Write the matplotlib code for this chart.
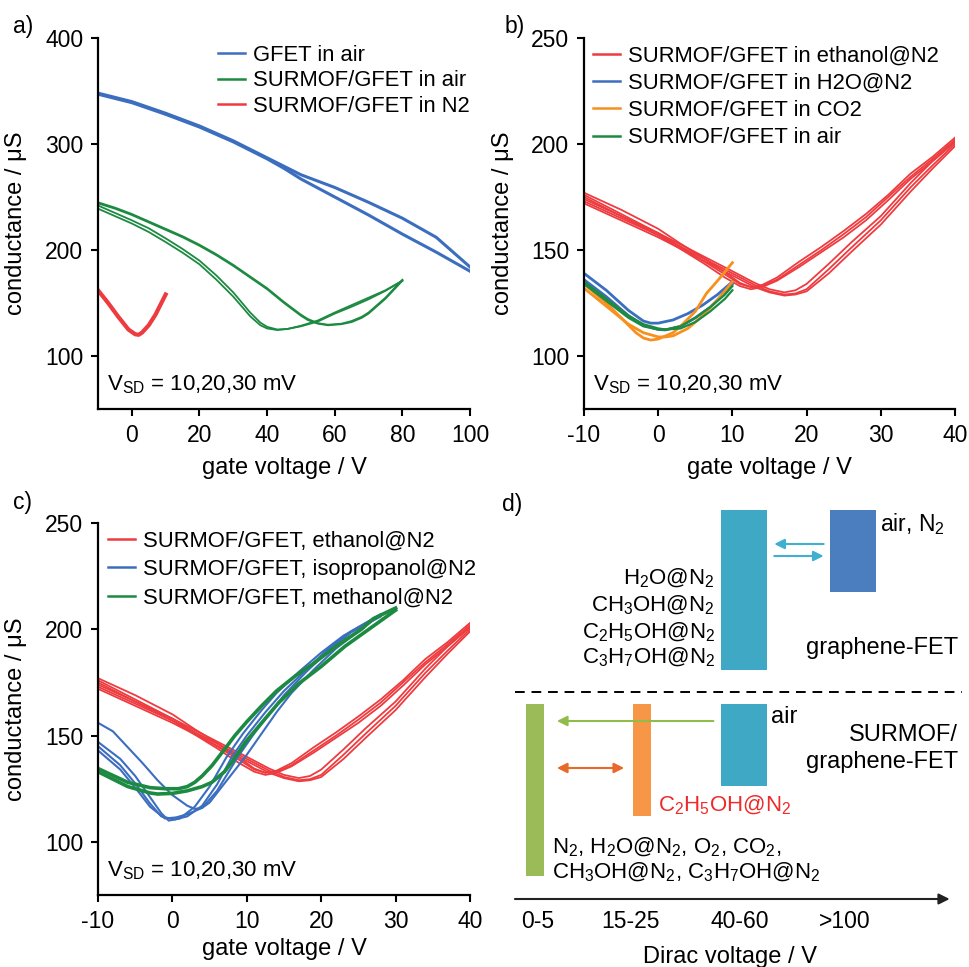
import matplotlib
matplotlib.use('Agg')
import matplotlib.pyplot as plt
from matplotlib.lines import Line2D

plt.rcParams['font.family'] = ['Liberation Sans', 'DejaVu Sans']
plt.rcParams['mathtext.fontset'] = 'custom'
plt.rcParams['mathtext.rm'] = 'Liberation Sans'
plt.rcParams['mathtext.it'] = 'Liberation Sans:italic'
plt.rcParams['mathtext.sf'] = 'Liberation Sans'
plt.rcParams['axes.unicode_minus'] = False

# ── colours ──────────────────────────────────────────────────────────────────
RED = '#ee3b3f'
BLUE = '#3c6ec0'
GREEN = '#1d8a42'
ORANGE = '#f7901e'

# ── panel a: GFET vs SURMOF/GFET (gate voltage V, conductance uS) ────────────
gfet_air_v = [-10, 0, 10, 20, 30, 40, 45, 50, 60, 70, 80, 90, 100]
gfet_air_up = [348, 340, 329, 317, 303, 287, 279, 271, 259, 245, 230, 212, 184]
gfet_air_dn = [347, 339, 328, 316, 302, 286, 277, 267, 250, 233, 215, 198, 180]

surmof_air_v_fwd = [-10, -5, 0, 5, 10, 15, 20, 25, 30, 35, 38, 40, 43, 46, 50,
                    55, 60, 65, 70, 75, 80]
surmof_air_fwd1 = [242, 235, 228, 220.5, 211, 201, 190, 176, 160, 141, 131.5,
                   127.5, 125, 125.5, 128, 132.5, 140, 146.5, 153.5, 161.5, 171]
surmof_air_fwd2 = [239, 232, 225, 217, 207.5, 197.5, 186.5, 172, 156, 137.5,
                   129, 126, 124.5, 125.5, 128.5, 133.5, 141, 148, 155, 162, 171]
surmof_air_v_bwd = [80, 75, 70, 68, 65, 62, 58, 55, 52, 50, 45, 40, 35, 30, 25,
                    20, 15, 10, 5, 0, -5, -10]
surmof_air_bwd1 = [172, 155, 141, 137, 133, 130.5, 129.5, 131, 135, 139, 151,
                   164, 175, 186, 196, 205, 213, 220, 227, 234, 240, 245]
surmof_air_bwd2 = [171, 154, 140, 136, 132, 130, 129, 130.5, 134, 138, 150,
                   163, 174, 185, 195, 204, 212, 219, 226, 233, 239, 244]

surmof_n2_v = [-10, -7, -4, -1, 1, 2, 3, 5, 7, 10]
surmof_n2_y = [162, 150, 137, 125, 120.5, 120, 122, 129, 139, 158]

# ── panel b & c: ethanol@N2 loops (shared) ───────────────────────────────────
etoh_v_fwd = [-10, -5, 0, 5, 10, 13, 15, 17, 18.5, 20, 23, 26, 30, 34, 37, 40]
etoh_fwd1 = [173, 165, 157, 148, 139, 133.5, 130.5, 129, 129.5, 131.5, 141,
             151, 164, 179.5, 190, 200]
etoh_fwd2 = [172, 164, 156, 147, 138, 132.5, 130, 128.5, 129, 130.5, 139, 149,
             162, 177.5, 188.5, 199]
etoh_fwd3 = [174, 166, 158, 149, 140, 134.5, 131.5, 130, 131, 134, 143.5,
             153.5, 166, 181.5, 192, 201]
etoh_v_bwd = [40, 37, 34, 31, 28, 25, 22, 19, 16, 14, 12.5, 11, 9, 6, 3, 0, -5,
              -10]
etoh_bwd1 = [203, 194, 186, 176, 167, 159, 151.5, 144.5, 137, 133.5, 132.5,
             134, 138.5, 145, 151.5, 158, 167, 176]
etoh_bwd2 = [202, 193, 184.5, 175, 165.5, 157.5, 150, 143, 136, 133, 132.5,
             134.5, 139.5, 146.5, 153, 160, 169, 177]
etoh_bwd3 = [201, 192, 183.5, 173.5, 164, 156, 149, 142, 135.5, 132.5, 131.5,
             133, 137, 144, 150.5, 157, 166, 175]

# ── panel b: H2O@N2, CO2, air ────────────────────────────────────────────────
h2o_v1 = [-10, -7, -4, -2, -1, 0, 2, 4, 6, 8, 10]
h2o_y1 = [139, 131, 121.5, 116.5, 115.5, 115.5, 117, 120, 124, 129, 135]
h2o_v2 = [-10, -7, -4, -2, 0, 1, 3, 5, 7, 9, 10]
h2o_y2 = [136, 128, 119, 114.5, 112.5, 112.3, 114, 118, 123, 130, 134]

co2_v1 = [-10, -7, -5, -3, -2, -1, 0, 2, 3, 5, 6.5, 8, 10]
co2_y1 = [134, 125, 118, 111, 108.5, 107.5, 108, 111, 114, 121, 129.5, 135.5,
          144]
co2_v2 = [-10, -7, -4, -2, 0, 1, 2, 4, 6, 8, 10]
co2_y2 = [132, 123.5, 115, 111, 109, 109, 109.5, 113, 119, 126.5, 135]

air_b_v = [-10, -7, -4, -2, 0, 1, 3, 5, 7, 9, 10]
air_b_y1 = [135, 127, 119, 115, 113, 112.5, 114, 118, 123, 129, 133]
air_b_y2 = [134, 126, 118, 114, 112.5, 112.5, 113, 116, 121, 127, 131]

# ── panel c: isopropanol@N2, methanol@N2 ─────────────────────────────────────
ipa_v1 = [-10, -8, -6, -4, -2, 0, 2, 3, 4, 5, 7, 9.8, 12, 14, 16, 19, 22, 25,
          28]
ipa_y1 = [156, 152, 144.5, 137, 129, 122, 117, 115.5, 116, 118.5, 127.5, 140,
          151, 161, 170, 181, 191, 199, 207]
ipa_v2 = [-10, -7, -5, -3, -1.5, -0.5, 1, 3, 5, 7.3, 9.5, 12, 14, 17, 20, 23,
          26, 28]
ipa_y2 = [147, 139, 131, 121, 113.5, 110, 111, 116.5, 126, 140, 151, 162, 170,
          180, 189, 197, 203, 207]
ipa_v3 = [-10, -7, -5, -3, -1.5, 0.3, 2, 4, 6, 8, 10, 12.5, 15, 18, 21, 24, 28]
ipa_y3 = [145, 136, 127.5, 118, 112, 110.5, 112, 117, 127, 140, 150, 161, 171,
          181, 191, 199, 207]
ipa_v4 = [-10, -7, -5, -3, -1, 0.5, 2, 4, 6, 8.8, 11, 13, 15, 18, 21, 24, 28]
ipa_y4 = [143, 134, 125.5, 116.5, 111, 111.5, 113, 116, 124, 140, 151, 160,
          169, 180, 190, 198.5, 206]

meoh_v_fwd = [-10, -6, -3, -2, 0, 2, 4, 5.3, 7, 8, 9.8, 12, 14.3, 17, 20, 23.2,
              26, 28, 30]
meoh_fwd = [133, 126, 123, 122.5, 122.8, 124, 126, 128, 133, 137.5, 146.8, 156,
            165.5, 174.5, 182.5, 192, 199, 204, 209]
meoh_v_bwd = [30, 27, 25.4, 22, 19, 16.5, 14, 12, 10, 8.4, 7, 5.3, 4, 3, 2, 0.8,
              -1, -3, -6, -10]
meoh_bwd = [210, 205, 200, 192, 184, 178, 171, 164, 156.5, 150, 143.5, 135.8,
            131, 128, 126, 125, 125, 125.5, 128, 134.5]

# ── panel d: schematic of Dirac voltage ranges ───────────────────────────────
dirac_labels = ['0-5', '15-25', '40-60', '>100']
dirac_label_x = [0.0, 0.88, 1.92, 2.92]
bar_x = [-0.03, 0.99, 1.96, 1.96, 3.0]
bar_w = [0.17, 0.18, 0.44, 0.44, 0.43]
bar_lo = [1.15, 4.15, 5.65, 11.45, 15.35]
bar_hi = [9.75, 9.75, 9.75, 19.45, 19.45]
bar_col = ['#9bbb59', '#f79646', '#3fa9c5', '#3fa9c5', '#4a7ebf']


fig = plt.figure(figsize=(9.7, 9.67), dpi=100)


def px_box(x0, y0, x1, y1):
    # pixel box (top-left origin) -> figure fraction rect
    return [x0 / 970, 1 - y1 / 967, (x1 - x0) / 970, (y1 - y0) / 967]


def style_axes(ax, xlim, ylim, xticks, yticks, xlab_y):
    ax.set_xlim(*xlim)
    ax.set_ylim(*ylim)
    ax.set_xticks(xticks)
    ax.set_yticks(yticks)
    for s in ['top', 'right']:
        ax.spines[s].set_visible(False)
    for s in ['left', 'bottom']:
        ax.spines[s].set_linewidth(1.6)
    ax.tick_params(direction='out', length=5, width=1.5, labelsize=16.5)
    ax.tick_params(axis='y', pad=5.5)
    ax.tick_params(axis='x', pad=5.5)
    ax.set_xlabel('gate voltage / V', fontsize=17)
    ax.set_ylabel('conductance / μS', fontsize=17)
    ax.yaxis.set_label_coords(-0.19, 0.5)
    ax.xaxis.set_label_coords(0.5, xlab_y)
    ax.text(0.024, 0.051, r'V$_{\mathrm{SD}}$ = 10,20,30 mV',
            transform=ax.transAxes, fontsize=16, va='baseline')


def add_legend(ax, labels, colors, x, y, spacing):
    handles = [Line2D([], [], color=c, lw=1.8) for c in colors]
    ax.legend(handles, labels, loc='upper left', bbox_to_anchor=(x, y),
              frameon=False, fontsize=15.8, handlelength=1.25,
              handletextpad=0.35, labelspacing=spacing, borderpad=0,
              borderaxespad=0)


# ══════════════════════════════════════════════════════════════════════════════
# a)
# ══════════════════════════════════════════════════════════════════════════════
ax_a = fig.add_axes(px_box(98, 38, 470, 409))
ax_a.plot(gfet_air_v, gfet_air_up, color=BLUE, lw=2.2)
ax_a.plot(gfet_air_v, gfet_air_dn, color=BLUE, lw=2.2)
for yy in [surmof_air_fwd1, surmof_air_fwd2]:
    ax_a.plot(surmof_air_v_fwd, yy, color=GREEN, lw=1.3)
for yy in [surmof_air_bwd1, surmof_air_bwd2]:
    ax_a.plot(surmof_air_v_bwd, yy, color=GREEN, lw=1.3)
ax_a.plot(surmof_n2_v, surmof_n2_y, color=RED, lw=3)
style_axes(ax_a, (-10, 100), (50, 400), [0, 20, 40, 60, 80, 100],
           [100, 200, 300, 400], -0.13)
add_legend(ax_a, ['GFET in air', 'SURMOF/GFET in air', 'SURMOF/GFET in N2'],
           [BLUE, GREEN, RED], 0.322, 0.981, 0.2)

# ══════════════════════════════════════════════════════════════════════════════
# b)
# ══════════════════════════════════════════════════════════════════════════════
ax_b = fig.add_axes(px_box(584, 38, 955, 409))
for yy in [etoh_fwd1, etoh_fwd2, etoh_fwd3]:
    ax_b.plot(etoh_v_fwd, yy, color=RED, lw=1.3)
for yy in [etoh_bwd1, etoh_bwd2, etoh_bwd3]:
    ax_b.plot(etoh_v_bwd, yy, color=RED, lw=1.3)
ax_b.plot(h2o_v1, h2o_y1, color=BLUE, lw=2)
ax_b.plot(h2o_v2, h2o_y2, color=BLUE, lw=2)
ax_b.plot(co2_v1, co2_y1, color=ORANGE, lw=2)
ax_b.plot(co2_v2, co2_y2, color=ORANGE, lw=2)
ax_b.plot(air_b_v, air_b_y1, color=GREEN, lw=1.6)
ax_b.plot(air_b_v, air_b_y2, color=GREEN, lw=1.6)
style_axes(ax_b, (-10, 40), (75, 250), [-10, 0, 10, 20, 30, 40],
           [100, 150, 200, 250], -0.13)
add_legend(ax_b, ['SURMOF/GFET in ethanol@N2', 'SURMOF/GFET in H2O@N2',
                  'SURMOF/GFET in CO2', 'SURMOF/GFET in air'],
           [RED, BLUE, ORANGE, GREEN], 0.024, 0.979, 0.28)

# ══════════════════════════════════════════════════════════════════════════════
# c)
# ══════════════════════════════════════════════════════════════════════════════
ax_c = fig.add_axes(px_box(98, 523, 470, 895))
for yy in [etoh_fwd1, etoh_fwd2, etoh_fwd3]:
    ax_c.plot(etoh_v_fwd, yy, color=RED, lw=1.3)
for yy in [etoh_bwd1, etoh_bwd2, etoh_bwd3]:
    ax_c.plot(etoh_v_bwd, yy, color=RED, lw=1.3)
for vv, yy in [(ipa_v1, ipa_y1), (ipa_v2, ipa_y2), (ipa_v3, ipa_y3),
               (ipa_v4, ipa_y4)]:
    ax_c.plot(vv, yy, color=BLUE, lw=1.5)
ax_c.plot(meoh_v_fwd, meoh_fwd, color=GREEN, lw=2.6)
ax_c.plot(meoh_v_bwd, meoh_bwd, color=GREEN, lw=2.6)
style_axes(ax_c, (-10, 40), (75, 250), [-10, 0, 10, 20, 30, 40],
           [100, 150, 200, 250], -0.115)
add_legend(ax_c, ['SURMOF/GFET, ethanol@N2', 'SURMOF/GFET, isopropanol@N2',
                  'SURMOF/GFET, methanol@N2'],
           [RED, BLUE, GREEN], 0.027, 0.979, 0.33)

# ══════════════════════════════════════════════════════════════════════════════
# d) schematic
# ══════════════════════════════════════════════════════════════════════════════
ax_d = fig.add_axes(px_box(485, 460, 970, 967))
ax_d.set_xlim(-0.505, 4.114)
ax_d.set_ylim(-3.4, 21.95)
ax_d.axis('off')

for x, w, lo, hi, c in zip(bar_x, bar_w, bar_lo, bar_hi, bar_col):
    ax_d.bar(x, hi - lo, width=w, bottom=lo, color=c, edgecolor='none')

ax_d.plot([-0.22, 4.04], [10.35, 10.35], color='black', lw=1.4,
          ls=(0, (5, 3.5)))
ax_d.annotate('', xy=(3.92, 0), xytext=(-0.22, 0),
              arrowprops=dict(arrowstyle='-|>', color='#222222', lw=1.5,
                              mutation_scale=16, shrinkA=0, shrinkB=0))

arrow_kw = dict(lw=1.5, mutation_scale=15, shrinkA=0, shrinkB=0)
ax_d.annotate('', xy=(2.25, 17.75), xytext=(2.72, 17.75),
              arrowprops=dict(arrowstyle='-|>', color='#3fb0cf', **arrow_kw))
ax_d.annotate('', xy=(2.72, 17.15), xytext=(2.25, 17.15),
              arrowprops=dict(arrowstyle='-|>', color='#3fb0cf', **arrow_kw))
ax_d.annotate('', xy=(0.18, 8.9), xytext=(1.67, 8.9),
              arrowprops=dict(arrowstyle='-|>', color='#8fbc4a', **arrow_kw))
ax_d.annotate('', xy=(0.18, 6.55), xytext=(0.82, 6.55),
              arrowprops=dict(arrowstyle='<|-|>', color='#e8692a', **arrow_kw))

for lab, x in zip(dirac_labels, dirac_label_x):
    ax_d.text(x, -1.15, lab, ha='center', va='center', fontsize=16.5)
ax_d.text(1.83, -2.9, 'Dirac voltage / V', ha='center', va='center',
          fontsize=17)

ax_d.text(3.257, 18.75, r'air, N$_2$', ha='left', va='center', fontsize=16.5)
for yy, lab in zip([16.05, 14.7, 13.35, 12.1],
                   [r'H$_2$O@N$_2$', r'CH$_3$OH@N$_2$', r'C$_2$H$_5$OH@N$_2$',
                    r'C$_3$H$_7$OH@N$_2$']):
    ax_d.text(1.686, yy, lab, ha='right', va='center', fontsize=16)
ax_d.text(4.0, 12.55, 'graphene-FET', ha='right', va='center', fontsize=17)
ax_d.text(2.22, 9.1, 'air', ha='left', va='center', fontsize=17)
ax_d.text(4.0, 8.2, 'SURMOF/', ha='right', va='center', fontsize=17)
ax_d.text(4.0, 6.85, 'graphene-FET', ha='right', va='center', fontsize=17)
ax_d.text(1.143, 4.7, r'C$_2$H$_5$OH@N$_2$', ha='left', va='center',
          fontsize=16, color='#ee2a2a')
ax_d.text(0.133, 2.6, r'N$_2$, H$_2$O@N$_2$, O$_2$, CO$_2$,', ha='left',
          va='center', fontsize=16)
ax_d.text(0.133, 1.35, r'CH$_3$OH@N$_2$, C$_3$H$_7$OH@N$_2$', ha='left',
          va='center', fontsize=16)

# ── panel letters ────────────────────────────────────────────────────────────
for lab, x, y in [('a)', 23, 26), ('b)', 515, 26), ('c)', 23, 503),
                  ('d)', 512, 504)]:
    fig.text(x / 970, 1 - y / 967, lab, ha='center', va='center', fontsize=16.5)

fig.savefig('out.png', dpi=100)
